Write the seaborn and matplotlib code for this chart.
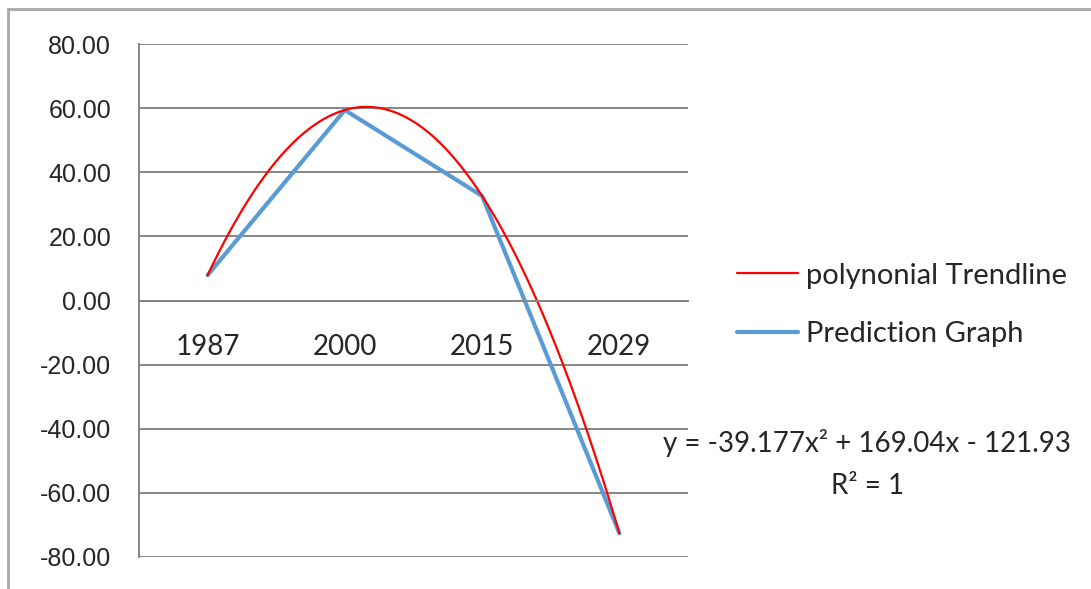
import numpy as np
import pandas as pd
import matplotlib
matplotlib.use("Agg")
import matplotlib.pyplot as plt
from matplotlib.lines import Line2D
import seaborn as sns

# ---- data ----
years = ["1987", "2000", "2015", "2029"]
prediction = [7.9, 59.4, 32.6, -72.6]
trend_label = "polynonial Trendline"
pred_label = "Prediction Graph"
equation_text = "y = -39.177x² + 169.04x - 121.93"
r2_text = "R² = 1"
y_ticks = [-80, -60, -40, -20, 0, 20, 40, 60, 80]

df = pd.DataFrame({"pos": np.arange(1, len(years) + 1), "value": prediction})

sns.set_style("white")
plt.rcParams["font.family"] = ["Lato", "DejaVu Sans"]

W, H = 1091, 589
fig = plt.figure(figsize=(W / 100, H / 100), dpi=100)
ax = fig.add_axes([139 / W, 1 - 557 / H, (688 - 139) / W, (557 - 44) / H])

grid_c = "#868686"
blue = "#5B9BD5"

sns.lineplot(data=df, x="pos", y="value", ax=ax, color=blue, lw=3.0,
             label=pred_label)
sns.regplot(data=df, x="pos", y="value", ax=ax, order=2, ci=None,
            scatter=False, truncate=True, label=trend_label,
            line_kws={"color": "red", "lw": 1.6})

ax.set_xlim(0.5, len(years) + 0.5)
ax.set_ylim(-80, 80)
ax.set_xlabel("")
ax.set_ylabel("")

# y axis
ax.set_yticks(y_ticks)
ax.set_yticklabels([f"{v:.2f}" for v in y_ticks], fontfamily="Liberation Sans",
                   fontsize=18, color="#262626")
ax.tick_params(axis="y", length=8, width=1.3, color=grid_c, pad=12, direction="out")
ax.grid(axis="y", color=grid_c, lw=1.4)
ax.set_axisbelow(True)

# x axis at zero
ax.spines["bottom"].set_position(("data", 0))
ax.spines["bottom"].set_color(grid_c)
ax.spines["bottom"].set_linewidth(1.4)
ax.spines["left"].set_color(grid_c)
ax.spines["left"].set_linewidth(1.4)
ax.spines["top"].set_visible(False)
ax.spines["right"].set_visible(False)
ax.set_xticks(np.arange(0.5, len(years) + 1, 1.0))
ax.set_xticklabels([])
ax.set_xticks(np.arange(1, len(years) + 1), minor=True)
ax.set_xticklabels(years, minor=True, fontsize=20, color="#262626")
ax.tick_params(axis="x", which="major", length=9, width=1.3, color=grid_c,
               direction="out")
ax.tick_params(axis="x", which="minor", length=0, pad=24)

# legend
handles, labels = ax.get_legend_handles_labels()
hmap = dict(zip(labels, handles))
leg = ax.legend([hmap[trend_label], hmap[pred_label]], [trend_label, pred_label],
                loc="center left", bbox_to_anchor=(737 / W, 1 - 305 / H),
                bbox_transform=fig.transFigure, frameon=False, fontsize=21,
                handlelength=2.1, handletextpad=0.27, labelspacing=1.12,
                borderpad=0, borderaxespad=0)
for t in leg.get_texts():
    t.set_color("#262626")

fig.text(867 / W, 1 - 443 / H, equation_text, ha="center", va="center",
         fontsize=20, color="#262626")
fig.text(868 / W, 1 - 486 / H, r2_text, ha="center", va="center",
         fontsize=20, color="#262626")

# outer chart frame (top and left edges visible)
fig.add_artist(Line2D([8 / W, 8 / W], [0, 1 - 9 / H], transform=fig.transFigure,
                      color="#A6A6A6", lw=2))
fig.add_artist(Line2D([8 / W, 1], [1 - 9 / H, 1 - 9 / H], transform=fig.transFigure,
                      color="#A6A6A6", lw=2))

fig.savefig("out.png", dpi=100)
